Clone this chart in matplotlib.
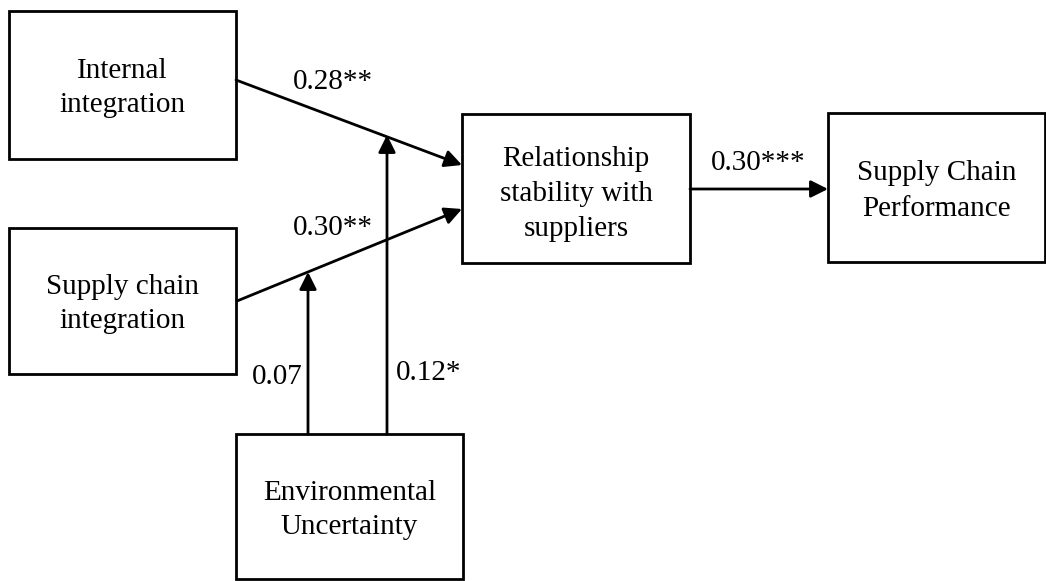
import matplotlib.pyplot as plt
from matplotlib.patches import Rectangle, FancyArrowPatch

# node labels
node_labels = ["Internal\nintegration", "Supply chain\nintegration",
               "Relationship\nstability with\nsuppliers", "Supply Chain\nPerformance",
               "Environmental\nUncertainty"]
# path coefficients
coef_labels = ["0.28**", "0.30**", "0.30***", "0.07", "0.12*"]

# layout in pixel coords (x0, y0, x1, y1)
boxes = [(9, 11, 236, 159), (9, 228, 236, 374), (462, 114, 690, 263),
         (828, 113, 1045, 262), (236, 434, 463, 579)]
text_y = [88, 304, 194, 191, 510]

W, H = 1046, 581
fig = plt.figure(figsize=(W / 100, H / 100), dpi=100)
ax = fig.add_axes([0, 0, 1, 1])
ax.set_xlim(0, W)
ax.set_ylim(H, 0)
ax.axis("off")

font = dict(family="Liberation Serif", fontsize=21, color="black")
lw = 2.0

for (x0, y0, x1, y1), lab, ty in zip(boxes, node_labels, text_y):
    ax.add_patch(Rectangle((x0, y0), x1 - x0, y1 - y0, fill=False, lw=lw, ec="black"))
    ax.text((x0 + x1) / 2, ty, lab, ha="center", va="center", linespacing=1.45, **font)


def arrow(p0, p1):
    ax.add_patch(FancyArrowPatch(p0, p1, arrowstyle="-|>", mutation_scale=26,
                                 lw=lw, color="black", shrinkA=0, shrinkB=0))


arrow((236, 80), (462, 165))
arrow((237, 301), (462, 209))
arrow((690, 189), (828, 189))
arrow((308, 434), (308, 272))
arrow((387, 434), (387, 135))

coef_pos = [(333, 82), (333, 228), (758, 163), (277, 377), (429, 373)]
for lab, (x, y) in zip(coef_labels, coef_pos):
    ax.text(x, y, lab, ha="center", va="center", **font)

fig.savefig("out.png", dpi=100)
